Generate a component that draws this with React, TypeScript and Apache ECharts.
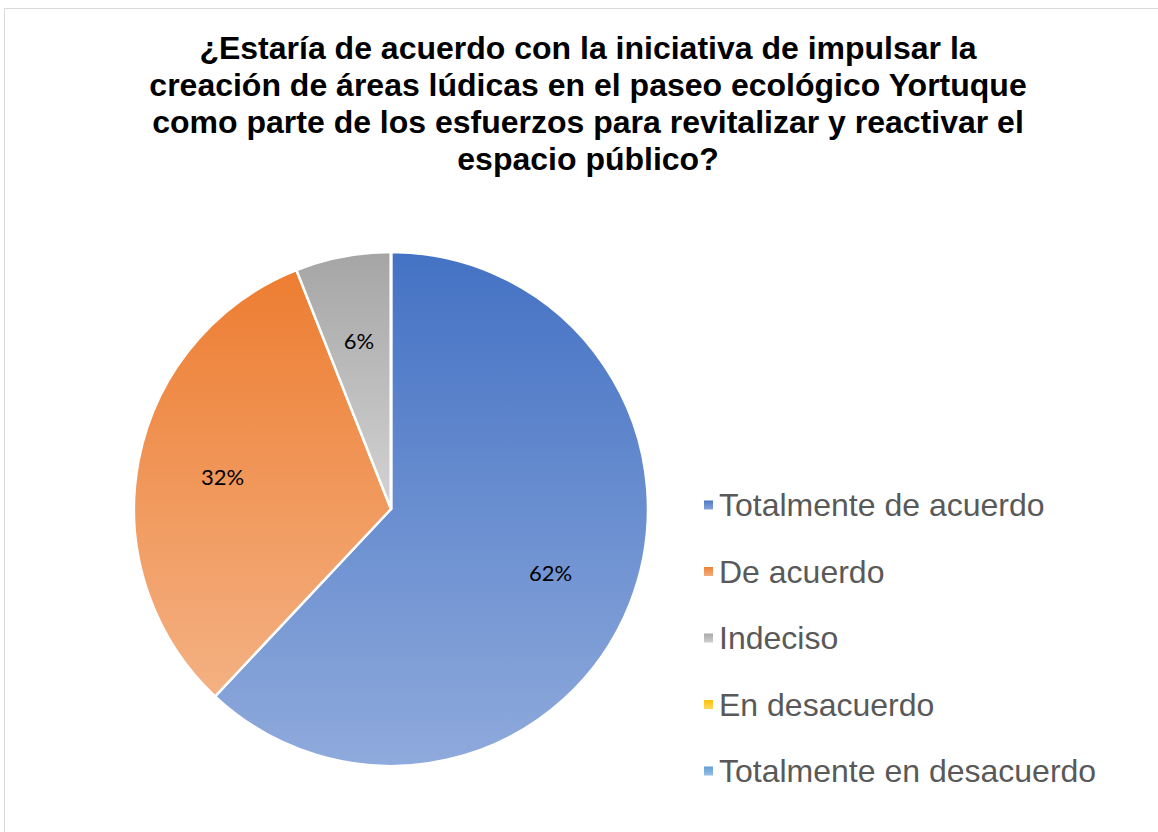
import React, { useEffect, useRef } from "react";
import * as echarts from "echarts";

const titleLines = [
  "¿Estaría de acuerdo con la iniciativa de impulsar la",
  "creación de áreas lúdicas en el paseo ecológico Yortuque",
  "como parte de los esfuerzos para revitalizar y reactivar el",
  "espacio público?",
];
const categories = [
  "Totalmente de acuerdo",
  "De acuerdo",
  "Indeciso",
  "En desacuerdo",
  "Totalmente en desacuerdo",
];
const values = [62, 32, 6, 0, 0];
const topColors = ["#4472C4", "#ED7D31", "#A5A5A5", "#FFC000", "#5B9BD5"];
const bottomColors = ["#8FAADC", "#F4B183", "#D3D3D3", "#FFD966", "#9DC3E6"];

const grad = (i: number) =>
  new echarts.graphic.LinearGradient(0, 0, 0, 1, [
    { offset: 0, color: topColors[i] },
    { offset: 1, color: bottomColors[i] },
  ]);

export default function App() {
  const ref = useRef<HTMLDivElement>(null);
  useEffect(() => {
    if (!ref.current) return;
    const chart = echarts.init(ref.current, null, { renderer: "svg" });
    const mainData = categories.map((name, i) => ({
      name,
      value: values[i],
      itemStyle: { color: grad(i) },
    }));
    const labelData = categories.map((name, i) => ({
      name,
      value: values[i],
    }));
    chart.setOption({
      animation: false,
      backgroundColor: "#ffffff",
      title: {
        text: titleLines.join("\n"),
        left: 583,
        textAlign: "center",
        top: 24,
        textStyle: {
          fontFamily: "Liberation Sans, Arial, sans-serif",
          fontWeight: "bold",
          fontSize: 32,
          lineHeight: 37,
          color: "#000000",
        },
      },
      graphic: [
        {
          type: "rect",
          shape: { x: 4.5, y: 8.5, width: 1300, height: 1000 },
          style: { fill: "none", stroke: "#D9D9D9", lineWidth: 1 },
          silent: true,
          z: -10,
        },
      ],
      legend: {
        orient: "vertical",
        left: 697,
        top: 484,
        itemWidth: 11,
        itemHeight: 11,
        itemGap: 34.5,
        icon: "rect",
        data: categories,
        textStyle: {
          fontFamily: "Liberation Sans, Arial, sans-serif",
          fontSize: 32,
          lineHeight: 31,
          color: "#595959",
        },
      },
      series: [
        {
          type: "pie",
          center: [391, 509],
          radius: [0, 257],
          startAngle: 90,
          clockwise: true,
          silent: true,
          label: { show: false },
          labelLine: { show: false },
          itemStyle: { borderColor: "#ffffff", borderWidth: 2.5 },
          data: mainData,
        },
        {
          type: "pie",
          center: [391, 509],
          radius: [80, 257],
          startAngle: 90,
          clockwise: true,
          silent: true,
          itemStyle: { color: "rgba(0,0,0,0)", borderWidth: 0 },
          labelLine: { show: false },
          label: {
            show: true,
            position: "inside",
            formatter: (p: any) => (p.value > 0 ? Math.round(p.percent) + "%" : ""),
            fontFamily: "Lato, Open Sans, sans-serif",
            fontSize: 22,
            color: "#000000",
          },
          data: labelData,
        },
      ],
    });
    return () => chart.dispose();
  }, []);
  return (
    <div
      ref={ref}
      style={{ position: "absolute", left: 0, top: 0, width: 1158, height: 832 }}
    />
  );
}
